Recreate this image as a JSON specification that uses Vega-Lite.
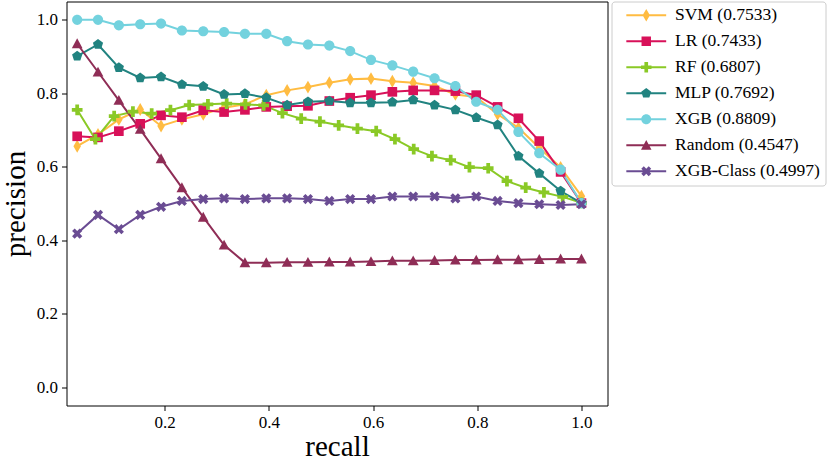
{
  "$schema": "https://vega.github.io/schema/vega-lite/v6.json",
  "width": 541,
  "height": 404,
  "padding": {"left": 0.5, "top": 0.5, "right": 0, "bottom": 0},
  "background": "white",
  "data": {
    "values": [
      {"model": "SVM (0.7533)", "recall": 0.032, "precision": 0.656},
      {"model": "SVM (0.7533)", "recall": 0.072, "precision": 0.688},
      {"model": "SVM (0.7533)", "recall": 0.112, "precision": 0.729},
      {"model": "SVM (0.7533)", "recall": 0.153, "precision": 0.756},
      {"model": "SVM (0.7533)", "recall": 0.193, "precision": 0.711},
      {"model": "SVM (0.7533)", "recall": 0.233, "precision": 0.729},
      {"model": "SVM (0.7533)", "recall": 0.274, "precision": 0.743},
      {"model": "SVM (0.7533)", "recall": 0.314, "precision": 0.761},
      {"model": "SVM (0.7533)", "recall": 0.354, "precision": 0.770},
      {"model": "SVM (0.7533)", "recall": 0.395, "precision": 0.795},
      {"model": "SVM (0.7533)", "recall": 0.435, "precision": 0.808},
      {"model": "SVM (0.7533)", "recall": 0.475, "precision": 0.817},
      {"model": "SVM (0.7533)", "recall": 0.516, "precision": 0.829},
      {"model": "SVM (0.7533)", "recall": 0.556, "precision": 0.838},
      {"model": "SVM (0.7533)", "recall": 0.596, "precision": 0.840},
      {"model": "SVM (0.7533)", "recall": 0.637, "precision": 0.833},
      {"model": "SVM (0.7533)", "recall": 0.677, "precision": 0.829},
      {"model": "SVM (0.7533)", "recall": 0.718, "precision": 0.820},
      {"model": "SVM (0.7533)", "recall": 0.758, "precision": 0.797},
      {"model": "SVM (0.7533)", "recall": 0.798, "precision": 0.790},
      {"model": "SVM (0.7533)", "recall": 0.839, "precision": 0.743},
      {"model": "SVM (0.7533)", "recall": 0.879, "precision": 0.706},
      {"model": "SVM (0.7533)", "recall": 0.919, "precision": 0.652},
      {"model": "SVM (0.7533)", "recall": 0.960, "precision": 0.598},
      {"model": "SVM (0.7533)", "recall": 1.0, "precision": 0.520},

      {"model": "LR (0.7433)", "recall": 0.032, "precision": 0.683},
      {"model": "LR (0.7433)", "recall": 0.072, "precision": 0.680},
      {"model": "LR (0.7433)", "recall": 0.112, "precision": 0.697},
      {"model": "LR (0.7433)", "recall": 0.153, "precision": 0.717},
      {"model": "LR (0.7433)", "recall": 0.193, "precision": 0.740},
      {"model": "LR (0.7433)", "recall": 0.233, "precision": 0.735},
      {"model": "LR (0.7433)", "recall": 0.274, "precision": 0.754},
      {"model": "LR (0.7433)", "recall": 0.314, "precision": 0.749},
      {"model": "LR (0.7433)", "recall": 0.354, "precision": 0.755},
      {"model": "LR (0.7433)", "recall": 0.395, "precision": 0.763},
      {"model": "LR (0.7433)", "recall": 0.435, "precision": 0.765},
      {"model": "LR (0.7433)", "recall": 0.475, "precision": 0.766},
      {"model": "LR (0.7433)", "recall": 0.516, "precision": 0.779},
      {"model": "LR (0.7433)", "recall": 0.556, "precision": 0.788},
      {"model": "LR (0.7433)", "recall": 0.596, "precision": 0.795},
      {"model": "LR (0.7433)", "recall": 0.637, "precision": 0.804},
      {"model": "LR (0.7433)", "recall": 0.677, "precision": 0.808},
      {"model": "LR (0.7433)", "recall": 0.718, "precision": 0.808},
      {"model": "LR (0.7433)", "recall": 0.758, "precision": 0.806},
      {"model": "LR (0.7433)", "recall": 0.798, "precision": 0.795},
      {"model": "LR (0.7433)", "recall": 0.839, "precision": 0.763},
      {"model": "LR (0.7433)", "recall": 0.879, "precision": 0.732},
      {"model": "LR (0.7433)", "recall": 0.919, "precision": 0.670},
      {"model": "LR (0.7433)", "recall": 0.960, "precision": 0.586},
      {"model": "LR (0.7433)", "recall": 1.0, "precision": 0.501},

      {"model": "RF (0.6807)", "recall": 0.032, "precision": 0.755},
      {"model": "RF (0.6807)", "recall": 0.067, "precision": 0.675},
      {"model": "RF (0.6807)", "recall": 0.103, "precision": 0.738},
      {"model": "RF (0.6807)", "recall": 0.139, "precision": 0.750},
      {"model": "RF (0.6807)", "recall": 0.175, "precision": 0.745},
      {"model": "RF (0.6807)", "recall": 0.211, "precision": 0.754},
      {"model": "RF (0.6807)", "recall": 0.247, "precision": 0.768},
      {"model": "RF (0.6807)", "recall": 0.283, "precision": 0.770},
      {"model": "RF (0.6807)", "recall": 0.319, "precision": 0.772},
      {"model": "RF (0.6807)", "recall": 0.355, "precision": 0.770},
      {"model": "RF (0.6807)", "recall": 0.390, "precision": 0.767},
      {"model": "RF (0.6807)", "recall": 0.426, "precision": 0.746},
      {"model": "RF (0.6807)", "recall": 0.462, "precision": 0.731},
      {"model": "RF (0.6807)", "recall": 0.498, "precision": 0.723},
      {"model": "RF (0.6807)", "recall": 0.534, "precision": 0.713},
      {"model": "RF (0.6807)", "recall": 0.570, "precision": 0.704},
      {"model": "RF (0.6807)", "recall": 0.606, "precision": 0.697},
      {"model": "RF (0.6807)", "recall": 0.642, "precision": 0.675},
      {"model": "RF (0.6807)", "recall": 0.678, "precision": 0.648},
      {"model": "RF (0.6807)", "recall": 0.713, "precision": 0.629},
      {"model": "RF (0.6807)", "recall": 0.749, "precision": 0.618},
      {"model": "RF (0.6807)", "recall": 0.785, "precision": 0.599},
      {"model": "RF (0.6807)", "recall": 0.821, "precision": 0.596},
      {"model": "RF (0.6807)", "recall": 0.857, "precision": 0.561},
      {"model": "RF (0.6807)", "recall": 0.893, "precision": 0.543},
      {"model": "RF (0.6807)", "recall": 0.928, "precision": 0.530},
      {"model": "RF (0.6807)", "recall": 0.964, "precision": 0.518},
      {"model": "RF (0.6807)", "recall": 1.0, "precision": 0.502},

      {"model": "MLP (0.7692)", "recall": 0.032, "precision": 0.901},
      {"model": "MLP (0.7692)", "recall": 0.072, "precision": 0.933},
      {"model": "MLP (0.7692)", "recall": 0.112, "precision": 0.870},
      {"model": "MLP (0.7692)", "recall": 0.153, "precision": 0.842},
      {"model": "MLP (0.7692)", "recall": 0.193, "precision": 0.845},
      {"model": "MLP (0.7692)", "recall": 0.233, "precision": 0.824},
      {"model": "MLP (0.7692)", "recall": 0.274, "precision": 0.819},
      {"model": "MLP (0.7692)", "recall": 0.314, "precision": 0.797},
      {"model": "MLP (0.7692)", "recall": 0.354, "precision": 0.799},
      {"model": "MLP (0.7692)", "recall": 0.395, "precision": 0.788},
      {"model": "MLP (0.7692)", "recall": 0.435, "precision": 0.768},
      {"model": "MLP (0.7692)", "recall": 0.475, "precision": 0.777},
      {"model": "MLP (0.7692)", "recall": 0.516, "precision": 0.779},
      {"model": "MLP (0.7692)", "recall": 0.556, "precision": 0.774},
      {"model": "MLP (0.7692)", "recall": 0.596, "precision": 0.774},
      {"model": "MLP (0.7692)", "recall": 0.637, "precision": 0.776},
      {"model": "MLP (0.7692)", "recall": 0.677, "precision": 0.782},
      {"model": "MLP (0.7692)", "recall": 0.718, "precision": 0.768},
      {"model": "MLP (0.7692)", "recall": 0.758, "precision": 0.755},
      {"model": "MLP (0.7692)", "recall": 0.798, "precision": 0.734},
      {"model": "MLP (0.7692)", "recall": 0.839, "precision": 0.714},
      {"model": "MLP (0.7692)", "recall": 0.879, "precision": 0.629},
      {"model": "MLP (0.7692)", "recall": 0.919, "precision": 0.582},
      {"model": "MLP (0.7692)", "recall": 0.960, "precision": 0.534},
      {"model": "MLP (0.7692)", "recall": 1.0, "precision": 0.501},

      {"model": "XGB (0.8809)", "recall": 0.032, "precision": 1.0},
      {"model": "XGB (0.8809)", "recall": 0.072, "precision": 1.0},
      {"model": "XGB (0.8809)", "recall": 0.112, "precision": 0.985},
      {"model": "XGB (0.8809)", "recall": 0.153, "precision": 0.988},
      {"model": "XGB (0.8809)", "recall": 0.193, "precision": 0.990},
      {"model": "XGB (0.8809)", "recall": 0.233, "precision": 0.971},
      {"model": "XGB (0.8809)", "recall": 0.274, "precision": 0.969},
      {"model": "XGB (0.8809)", "recall": 0.314, "precision": 0.967},
      {"model": "XGB (0.8809)", "recall": 0.354, "precision": 0.962},
      {"model": "XGB (0.8809)", "recall": 0.395, "precision": 0.962},
      {"model": "XGB (0.8809)", "recall": 0.435, "precision": 0.942},
      {"model": "XGB (0.8809)", "recall": 0.475, "precision": 0.933},
      {"model": "XGB (0.8809)", "recall": 0.516, "precision": 0.930},
      {"model": "XGB (0.8809)", "recall": 0.556, "precision": 0.915},
      {"model": "XGB (0.8809)", "recall": 0.596, "precision": 0.891},
      {"model": "XGB (0.8809)", "recall": 0.637, "precision": 0.876},
      {"model": "XGB (0.8809)", "recall": 0.677, "precision": 0.859},
      {"model": "XGB (0.8809)", "recall": 0.718, "precision": 0.841},
      {"model": "XGB (0.8809)", "recall": 0.758, "precision": 0.820},
      {"model": "XGB (0.8809)", "recall": 0.798, "precision": 0.777},
      {"model": "XGB (0.8809)", "recall": 0.839, "precision": 0.755},
      {"model": "XGB (0.8809)", "recall": 0.879, "precision": 0.695},
      {"model": "XGB (0.8809)", "recall": 0.919, "precision": 0.637},
      {"model": "XGB (0.8809)", "recall": 0.960, "precision": 0.592},
      {"model": "XGB (0.8809)", "recall": 1.0, "precision": 0.501},

      {"model": "Random (0.4547)", "recall": 0.032, "precision": 0.935},
      {"model": "Random (0.4547)", "recall": 0.072, "precision": 0.858},
      {"model": "Random (0.4547)", "recall": 0.112, "precision": 0.781},
      {"model": "Random (0.4547)", "recall": 0.153, "precision": 0.702},
      {"model": "Random (0.4547)", "recall": 0.193, "precision": 0.622},
      {"model": "Random (0.4547)", "recall": 0.233, "precision": 0.543},
      {"model": "Random (0.4547)", "recall": 0.274, "precision": 0.463},
      {"model": "Random (0.4547)", "recall": 0.314, "precision": 0.387},
      {"model": "Random (0.4547)", "recall": 0.354, "precision": 0.339},
      {"model": "Random (0.4547)", "recall": 0.395, "precision": 0.339},
      {"model": "Random (0.4547)", "recall": 0.435, "precision": 0.340},
      {"model": "Random (0.4547)", "recall": 0.475, "precision": 0.340},
      {"model": "Random (0.4547)", "recall": 0.516, "precision": 0.341},
      {"model": "Random (0.4547)", "recall": 0.556, "precision": 0.341},
      {"model": "Random (0.4547)", "recall": 0.596, "precision": 0.342},
      {"model": "Random (0.4547)", "recall": 0.637, "precision": 0.344},
      {"model": "Random (0.4547)", "recall": 0.677, "precision": 0.344},
      {"model": "Random (0.4547)", "recall": 0.718, "precision": 0.345},
      {"model": "Random (0.4547)", "recall": 0.758, "precision": 0.346},
      {"model": "Random (0.4547)", "recall": 0.798, "precision": 0.346},
      {"model": "Random (0.4547)", "recall": 0.839, "precision": 0.347},
      {"model": "Random (0.4547)", "recall": 0.879, "precision": 0.347},
      {"model": "Random (0.4547)", "recall": 0.919, "precision": 0.348},
      {"model": "Random (0.4547)", "recall": 0.960, "precision": 0.349},
      {"model": "Random (0.4547)", "recall": 1.0, "precision": 0.349},

      {"model": "XGB-Class (0.4997)", "recall": 0.032, "precision": 0.418},
      {"model": "XGB-Class (0.4997)", "recall": 0.072, "precision": 0.469},
      {"model": "XGB-Class (0.4997)", "recall": 0.112, "precision": 0.430},
      {"model": "XGB-Class (0.4997)", "recall": 0.153, "precision": 0.469},
      {"model": "XGB-Class (0.4997)", "recall": 0.193, "precision": 0.491},
      {"model": "XGB-Class (0.4997)", "recall": 0.233, "precision": 0.507},
      {"model": "XGB-Class (0.4997)", "recall": 0.274, "precision": 0.512},
      {"model": "XGB-Class (0.4997)", "recall": 0.314, "precision": 0.514},
      {"model": "XGB-Class (0.4997)", "recall": 0.354, "precision": 0.512},
      {"model": "XGB-Class (0.4997)", "recall": 0.395, "precision": 0.514},
      {"model": "XGB-Class (0.4997)", "recall": 0.435, "precision": 0.514},
      {"model": "XGB-Class (0.4997)", "recall": 0.475, "precision": 0.512},
      {"model": "XGB-Class (0.4997)", "recall": 0.516, "precision": 0.507},
      {"model": "XGB-Class (0.4997)", "recall": 0.556, "precision": 0.512},
      {"model": "XGB-Class (0.4997)", "recall": 0.596, "precision": 0.512},
      {"model": "XGB-Class (0.4997)", "recall": 0.637, "precision": 0.519},
      {"model": "XGB-Class (0.4997)", "recall": 0.677, "precision": 0.519},
      {"model": "XGB-Class (0.4997)", "recall": 0.718, "precision": 0.519},
      {"model": "XGB-Class (0.4997)", "recall": 0.758, "precision": 0.514},
      {"model": "XGB-Class (0.4997)", "recall": 0.798, "precision": 0.519},
      {"model": "XGB-Class (0.4997)", "recall": 0.839, "precision": 0.507},
      {"model": "XGB-Class (0.4997)", "recall": 0.879, "precision": 0.501},
      {"model": "XGB-Class (0.4997)", "recall": 0.919, "precision": 0.498},
      {"model": "XGB-Class (0.4997)", "recall": 0.960, "precision": 0.496},
      {"model": "XGB-Class (0.4997)", "recall": 1.0, "precision": 0.498}
    ]
  },
  "encoding": {
    "x": {
      "field": "recall",
      "type": "quantitative",
      "title": "recall",
      "scale": {"domain": [0.0115, 1.05], "nice": false, "zero": false},
      "axis": {"values": [0.2, 0.4, 0.6, 0.8, 1.0], "format": ".1f", "labelPadding": 4, "titlePadding": 2}
    },
    "y": {
      "field": "precision",
      "type": "quantitative",
      "title": "precision",
      "scale": {"domain": [-0.05, 1.05], "nice": false, "zero": false},
      "axis": {"values": [0, 0.2, 0.4, 0.6, 0.8, 1.0], "format": ".1f", "labelPadding": 4, "titlePadding": 6}
    },
    "color": {
      "field": "model",
      "type": "nominal",
      "scale": {
        "domain": ["SVM (0.7533)", "LR (0.7433)", "RF (0.6807)", "MLP (0.7692)", "XGB (0.8809)", "Random (0.4547)", "XGB-Class (0.4997)"],
        "range": ["#ffbc42", "#d81159", "#8ac926", "#218380", "#73d2de", "#8f2d56", "#6a4c93"]
      },
      "legend": {
        "title": null,
        "orient": "right",
        "offset": 4,
        "padding": 5,
        "strokeColor": "#cccccc",
        "cornerRadius": 3,
        "fillColor": "white",
        "labelFont": "Liberation Serif",
        "labelFontSize": 17.5,
        "labelColor": "black",
        "labelLimit": 300,
        "symbolSize": 110,
        "symbolStrokeWidth": 0,
        "rowPadding": 7,
        "symbolOffset": 21,
        "labelOffset": 20,
        "encode": {
          "symbols": {
            "update": {
              "shape": {"signal": "scale('shape', datum.value) + 'M-3.8,-0.2H3.8V0.2H-3.8Z'"},
              "fill": {"scale": "color", "field": "value"},
              "stroke": {"value": "transparent"},
              "opacity": {"value": 1},
              "fillOpacity": {"value": 1}
            }
          }
        }
      }
    }
  },
  "layer": [
    {
      "mark": {"type": "line", "strokeWidth": 2},
      "encoding": {"order": {"field": "recall", "type": "quantitative"}}
    },
    {
      "mark": {"type": "point", "filled": true, "opacity": 1, "size": 115},
      "encoding": {
        "shape": {
          "field": "model",
          "type": "nominal",
          "legend": null,
          "scale": {
            "domain": ["XGB-Class (0.4997)", "Random (0.4547)", "XGB (0.8809)", "MLP (0.7692)", "RF (0.6807)", "LR (0.7433)", "SVM (0.7533)"],
            "range": [
              "M0.47,-0.95L0.95,-0.47L0.47,0L0.95,0.47L0.47,0.95L0,0.47L-0.47,0.95L-0.95,0.47L-0.47,0L-0.95,-0.47L-0.47,-0.95L0,-0.47Z",
              "M0,-1L1,0.85L-1,0.85Z",
              "M0,-0.95A0.95,0.95 0 1,1 0,0.95A0.95,0.95 0 1,1 0,-0.95Z",
              "M0,-1L0.951,-0.309L0.588,0.809L-0.588,0.809L-0.951,-0.309Z",
              "M-0.35,-1L0.35,-1L0.35,-0.35L1,-0.35L1,0.35L0.35,0.35L0.35,1L-0.35,1L-0.35,0.35L-1,0.35L-1,-0.35L-0.35,-0.35Z",
              "M-0.9,-0.9H0.9V0.9H-0.9Z",
              "M0,-1.2L0.7,0L0,1.2L-0.7,0Z"
            ]
          }
        }
      }
    }
  ],
  "config": {
    "font": "Liberation Serif",
    "view": {"stroke": "black", "strokeWidth": 1},
    "axis": {
      "domain": false,
      "grid": false,
      "tickColor": "black",
      "tickSize": 5,
      "tickWidth": 1,
      "labelFont": "Liberation Serif",
      "labelFontSize": 17,
      "labelColor": "black",
      "titleFont": "Liberation Serif",
      "titleFontSize": 29,
      "titleFontWeight": "normal",
      "titleColor": "black"
    }
  }
}
